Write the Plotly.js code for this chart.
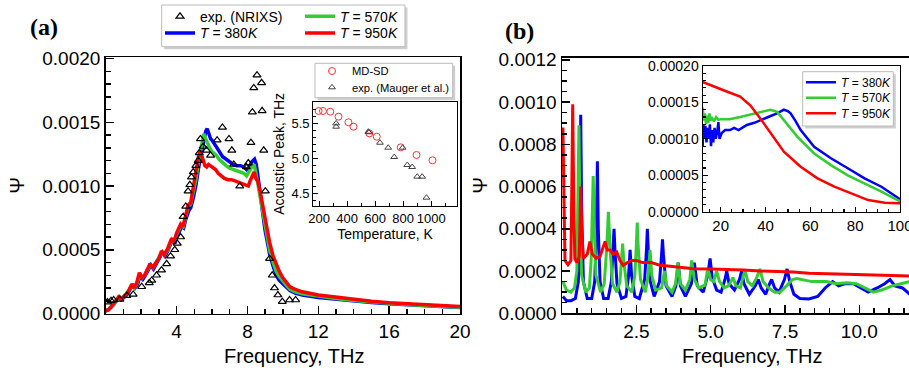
<!DOCTYPE html>
<html><head><meta charset="utf-8">
<script src="https://cdn.plot.ly/plotly-3.0.1.min.js"></script>
<style>html,body{margin:0;padding:0;background:#fff}#chart{width:909px;height:372px}</style>
</head><body><div id="chart"></div>
<script>
// ---------- Panel (a): phonon spectrum vs frequency ----------
const freqA380 = [0,0.15,0.3,0.45,0.6,0.77,0.9,1.0,1.15,1.3,1.52,1.65,1.8,1.95,2.1,2.2,2.35,2.55,2.7,2.82,3.0,3.2,3.35,3.5,3.77,3.9,4.0,4.27,4.4,4.5,4.7,4.8,4.95,5.1,5.25,5.4,5.55,5.65,5.73,5.82,5.92,6.0,6.1,6.25,6.4,6.6,6.8,7.0,7.2,7.4,7.6,7.8,7.95,8.1,8.25,8.4,8.5,8.6,8.7,8.85,9.0,9.1,9.25,9.45,9.63,9.8,10.0,10.2,10.4,10.7,11.1,12,13,14,15,16,17,18,19,20];
const psiA380 = [0.00002,0.00003,0.00005,0.00007,0.0001,0.00013,0.00011,0.00012,0.00014,0.00017,0.00023,0.0002,0.00023,0.0003,0.00027,0.00029,0.00033,0.00038,0.00035,0.00038,0.00042,0.00048,0.00045,0.00049,0.00058,0.00055,0.00059,0.00068,0.00067,0.00073,0.00081,0.00083,0.00091,0.00101,0.00115,0.00127,0.00137,0.00143,0.00145,0.00141,0.00137,0.00136,0.00134,0.0013,0.00127,0.00123,0.00121,0.00119,0.00117,0.00116,0.00116,0.00115,0.00113,0.00115,0.00119,0.00121,0.00117,0.00107,0.00095,0.0008,0.00065,0.00057,0.00047,0.00037,0.0003,0.00026,0.00023,0.0002,0.00018,0.00016,0.000145,0.000125,0.00011,0.000097,0.000086,0.000077,0.000068,0.00006,0.000054,0.000048];
const freqA570 = [0,0.15,0.3,0.45,0.6,0.75,0.88,1.0,1.15,1.3,1.5,1.62,1.78,1.93,2.07,2.2,2.35,2.52,2.67,2.8,3.0,3.17,3.32,3.5,3.74,3.87,4.0,4.25,4.37,4.5,4.67,4.8,4.95,5.1,5.25,5.4,5.54,5.62,5.7,5.8,5.9,6.0,6.1,6.25,6.4,6.6,6.8,7.0,7.2,7.4,7.6,7.8,7.95,8.1,8.25,8.38,8.48,8.6,8.7,8.85,9.0,9.1,9.25,9.45,9.63,9.8,10.0,10.2,10.4,10.7,11.1,12,13,14,15,16,17,18,19,20];
const psiA570 = [0.00002,0.00003,0.00005,0.00007,0.0001,0.00012,0.00011,0.00013,0.00015,0.00018,0.00022,0.0002,0.00024,0.00031,0.00028,0.0003,0.00034,0.00038,0.00036,0.00039,0.00043,0.00048,0.00046,0.0005,0.00058,0.00056,0.00062,0.00069,0.00068,0.00075,0.00084,0.00086,0.00095,0.00106,0.0012,0.00132,0.00141,0.00138,0.00135,0.00132,0.00129,0.00127,0.00126,0.00124,0.00121,0.00118,0.00116,0.00114,0.00113,0.00112,0.00111,0.0011,0.00108,0.00112,0.00115,0.00117,0.00111,0.00101,0.00093,0.00081,0.00068,0.0006,0.0005,0.0004,0.00033,0.00029,0.00025,0.00022,0.00019,0.00017,0.000155,0.000135,0.000118,0.000102,0.00009,0.00008,0.00007,0.000063,0.000056,0.00005];
const freqA950 = [0,0.15,0.3,0.45,0.6,0.72,0.85,1.0,1.15,1.3,1.47,1.6,1.75,1.9,2.05,2.2,2.35,2.5,2.65,2.8,3.0,3.15,3.3,3.5,3.72,3.85,4.0,4.23,4.35,4.5,4.65,4.8,4.95,5.1,5.22,5.32,5.42,5.51,5.6,5.7,5.8,5.9,6.0,6.1,6.2,6.35,6.5,6.7,6.9,7.1,7.3,7.5,7.7,7.9,8.05,8.15,8.3,8.38,8.48,8.58,8.7,8.85,9.0,9.1,9.25,9.45,9.63,9.8,10.0,10.2,10.4,10.7,11.1,12,13,14,15,16,17,18,19,20];
const psiA950 = [0.00002,0.00003,0.00005,0.00008,0.0001,0.00013,0.00011,0.00013,0.00015,0.00018,0.00023,0.0002,0.00024,0.00032,0.00028,0.0003,0.00034,0.00039,0.00036,0.00039,0.00043,0.00049,0.00046,0.00051,0.00059,0.00056,0.00063,0.0007,0.00068,0.00076,0.00085,0.00087,0.00098,0.00112,0.00122,0.00128,0.00124,0.0012,0.00116,0.00115,0.00117,0.00116,0.00115,0.00114,0.00113,0.0011,0.00108,0.00106,0.00105,0.00105,0.00104,0.00103,0.00102,0.00101,0.001,0.00104,0.00109,0.00111,0.00106,0.00104,0.00097,0.00086,0.00073,0.00066,0.00056,0.00045,0.00038,0.00033,0.00028,0.00024,0.00021,0.00019,0.00017,0.000145,0.000128,0.00011,0.000097,0.000085,0.000077,0.00007,0.000062,0.000055];
const freqNRIXS = [0.1,0.3,0.45,0.8,1.2,1.55,2.03,2.46,2.6,2.87,3.15,3.44,3.66,3.9,4.04,4.23,4.37,4.52,4.65,4.75,4.84,4.94,5.09,5.22,5.28,5.35,5.5,5.69,5.92,6.29,6.59,6.96,7.12,7.23,7.57,7.94,8.05,8.2,8.28,8.36,8.54,8.8,8.83,8.92,9.01,9.25,9.4,9.53,9.72,9.97,10.38,10.72];
const psiNRIXS = [0.00009,0.0001,0.000106,0.00011,0.00014,0.00015,0.00021,0.00024,0.00026,0.0003,0.00034,0.00039,0.00045,0.0005,0.00055,0.0006,0.00076,0.00084,0.00096,0.00101,0.00107,0.00111,0.00116,0.0012,0.00126,0.00137,0.00131,0.00128,0.00124,0.00136,0.00146,0.00137,0.00128,0.00117,0.001,0.00115,0.00118,0.00134,0.00158,0.00177,0.00187,0.00181,0.00159,0.00128,0.00096,0.00043,0.0003,0.0002,0.000145,0.000093,0.000106,0.000106];

// ---------- Inset (a): acoustic peak vs temperature ----------
const tempMD = [196,227,279,338,409,445,558,611,782,895,1009];
const peakMD = [5.677,5.677,5.667,5.596,5.516,5.453,5.358,5.31,5.158,5.049,4.973];
const tempExp = [321,321,551,556,634,693,736,796,829,864,900,935,966];
const peakExp = [5.50,5.453,5.381,5.373,5.224,5.153,5.02,5.153,4.906,4.877,4.739,4.739,4.439];

// ---------- Panel (b): low-frequency spectrum ----------
const freqB380 = [0.03,0.15,0.3,0.45,0.55,0.6,0.63,0.66,0.72,0.85,1.0,1.1,1.16,1.19,1.22,1.28,1.4,1.55,1.66,1.72,1.75,1.78,1.85,2.0,2.15,2.24,2.29,2.34,2.45,2.6,2.78,2.84,2.87,2.9,2.97,3.1,3.28,3.35,3.38,3.41,3.5,3.7,3.83,3.91,3.98,4.15,4.35,4.45,4.55,4.75,4.9,4.98,5.05,5.2,5.35,5.48,5.54,5.62,5.8,5.97,6.04,6.12,6.3,6.5,6.6,6.7,6.85,6.98,7.05,7.15,7.3,7.48,7.57,7.66,7.8,8.0,8.3,8.6,8.85,9.1,9.3,9.5,9.8,10.05,10.3,10.6,10.85,11.03,11.2,11.45,11.7];
const psiB380 = [0.00008,0.00006,0.00006,0.00007,0.00015,0.0005,0.00094,0.0005,0.00015,0.00007,0.00007,0.00015,0.0004,0.00072,0.0004,0.00015,0.00007,0.00007,0.00015,0.0003,0.0004,0.0003,0.00014,0.00007,0.00008,0.00018,0.0003,0.00018,0.00008,0.00007,0.00016,0.0003,0.0004,0.0003,0.00015,0.00008,0.00015,0.00028,0.00035,0.00028,0.00013,0.00008,0.00013,0.00024,0.00013,0.00008,0.00014,0.00024,0.00013,0.0001,0.00018,0.00026,0.00017,0.00011,0.0001,0.00016,0.0002,0.00014,0.00011,0.00016,0.0002,0.00014,0.00009,0.00013,0.00016,0.00012,0.00009,0.00014,0.00016,0.00012,0.0001,0.00016,0.00021,0.00015,0.00009,0.00007,0.000068,0.00008,0.00012,0.00015,0.00013,0.00014,0.00014,0.00012,0.0001,0.00012,0.00014,0.00016,0.00013,0.00012,0.00009];
const freqB570 = [0.03,0.15,0.3,0.42,0.5,0.54,0.57,0.6,0.66,0.8,0.92,0.98,1.02,1.05,1.08,1.14,1.3,1.42,1.5,1.56,1.62,1.7,1.85,1.95,2.0,2.04,2.08,2.18,2.35,2.45,2.5,2.53,2.56,2.64,2.8,2.9,2.96,3.02,3.15,3.35,3.45,3.52,3.7,3.82,3.9,3.98,4.15,4.3,4.36,4.45,4.6,4.81,4.9,5.0,5.1,5.2,5.3,5.45,5.6,5.75,5.85,6.0,6.1,6.16,6.25,6.4,6.55,6.66,6.76,6.95,7.15,7.33,7.55,7.75,7.9,8.1,8.4,8.68,8.9,9.2,9.58,9.9,10.2,10.47,10.75,11.1,11.4,11.7];
const psiB570 = [0.00015,0.00011,0.0001,0.00012,0.0002,0.0005,0.00089,0.0005,0.00018,0.0001,0.00012,0.00025,0.00045,0.00065,0.00045,0.00018,0.0001,0.00014,0.0003,0.00048,0.0003,0.00014,0.0001,0.00015,0.00025,0.00033,0.00024,0.00013,0.0001,0.00018,0.00032,0.00043,0.00032,0.00016,0.0001,0.00018,0.0003,0.00018,0.00011,0.00012,0.0002,0.00013,0.0001,0.00014,0.00024,0.00014,0.00011,0.00016,0.00025,0.00016,0.00012,0.000133,0.00021,0.00016,0.00015,0.0002,0.00015,0.00012,0.00013,0.00017,0.00013,0.00012,0.00018,0.0002,0.00015,0.00013,0.00017,0.00021,0.00015,0.00012,0.0001,0.0001,0.00013,0.00016,0.000165,0.00016,0.00015,0.00015,0.00015,0.00014,0.000145,0.00014,0.00012,0.0001,0.00011,0.00013,0.00014,0.00015];
const freqB950 = [0.03,0.06,0.1,0.2,0.3,0.33,0.36,0.39,0.43,0.5,0.58,0.61,0.63,0.66,0.72,0.85,0.94,1.02,1.15,1.28,1.38,1.45,1.52,1.62,1.72,1.84,1.95,2.06,2.2,2.35,2.51,2.7,3.0,3.3,3.8,4.42,5.0,5.54,6.1,6.66,7.2,7.78,8.3,8.9,9.5,10.0,10.8,11.7];
const psiB950 = [0.00088,0.0005,0.00025,0.00023,0.00025,0.0006,0.00099,0.0006,0.00026,0.00024,0.00027,0.00045,0.0006,0.0004,0.00026,0.00028,0.00034,0.00028,0.00026,0.00027,0.00031,0.00034,0.0003,0.0003,0.00028,0.00029,0.00025,0.000227,0.00024,0.00025,0.00025,0.00024,0.00024,0.000227,0.00022,0.000211,0.00021,0.000208,0.000205,0.0002,0.000198,0.000195,0.00019,0.000187,0.000185,0.000183,0.00018,0.000177];

// ---------- Inset (b) ----------
const xIn380 = [12,12.3,12.7,13.2,13.7,14.2,14.7,15.2,15.7,16.2,16.7,17.3,17.8,18.5,19,19.5,20.5,22,24.2,26,28,31.7,35,39.2,42,45.2,48.2,50,51.2,53.5,55.7,61.7,69.2,76.7,84.2,91.7,100];
const yIn380 = [0.00009,0.00012,0.0001,0.000118,0.000095,0.000115,0.0001,0.00012,0.00009,0.000112,0.000095,0.000115,0.0001,0.00011,0.000123,0.0001,0.000108,0.000112,0.000112,0.000115,0.000112,0.000119,0.000122,0.000128,0.000131,0.000135,0.00014,0.000138,0.000135,0.000124,0.000112,0.0000892,0.0000733,0.0000596,0.0000458,0.0000343,0.000017];
const xIn570 = [12,12.5,13,13.5,14,14.5,15,15.5,16,17,18,19,20,24,28.7,33,37.7,42.2,45.2,47,49.7,54.2,61.7,69.2,76.7,84.2,91.7,100];
const yIn570 = [0.000143,0.000125,0.000135,0.00012,0.000132,0.000122,0.000135,0.000125,0.00013,0.000124,0.00013,0.000126,0.000127,0.000127,0.00013,0.000133,0.000137,0.00014,0.000137,0.00013,0.000119,0.000103,0.00008,0.000064,0.00005,0.000039,0.0000275,0.000014];
const xIn950 = [12,16.7,22.7,28.7,33.2,37.7,42.2,48.2,55.7,63.2,70.7,78.2,85.8,93.2,100];
const yIn950 = [0.000178,0.000172,0.000165,0.000158,0.000146,0.000128,0.000108,0.0000824,0.0000618,0.0000458,0.0000343,0.0000252,0.000016,0.0000124,0.0000115];

const freqTicksA = [4,8,12,16,20];
const freqTicksB = [2.5,5,7.5,10];
const tempTicks = [200,400,600,800,1000];
const peakTicks = [4.5,5.0,5.5];
const insetBTicks = [20,40,60,80,100];

// ---------- layout helpers ----------
const W = 909, H = 372;
const px = x => x / W;
const py = y => 1 - y / H;
const K = '#000';
const FONT = 'Liberation Sans, Arial, sans-serif';
const BLUE = '#0000ff', GREEN = '#33cc33', RED = '#ff0000';

function ax(o, big) {
  const base = {
    showline: true, linecolor: K, linewidth: big ? 1.5 : 1.2,
    ticks: 'inside', ticklen: big ? 8 : 5, tickwidth: big ? 1.5 : 1.2, tickcolor: K,
    showgrid: false, zeroline: false, fixedrange: true, ticklabeloverflow: 'allow',
    tickfont: {family: FONT, size: big ? 19 : 13, color: K}
  };
  const r = Object.assign(base, o);
  r.minor = Object.assign({ticks: 'inside', ticklen: big ? 5 : 3, tickwidth: big ? 1.5 : 1.2, tickcolor: K, showgrid: false}, o.minor || {});
  return r;
}

const leg = (x, y, size) => ({x: px(x), y: py(y), xanchor: 'left', yanchor: 'middle',
  bgcolor: 'rgba(0,0,0,0)', borderwidth: 0, font: {family: FONT, size: size, color: K}});

const traces = [
  // panel (a)
  {x: freqA380, y: psiA380, xaxis: 'x', yaxis: 'y', mode: 'lines', name: '<i>T</i> = 380<i>K</i>',
   line: {color: BLUE, width: 3.5}, legend: 'legend2'},
  {x: freqA570, y: psiA570, xaxis: 'x', yaxis: 'y', mode: 'lines', name: '<i>T</i> = 570<i>K</i>',
   line: {color: GREEN, width: 3.5}, legend: 'legend3'},
  {x: freqA950, y: psiA950, xaxis: 'x', yaxis: 'y', mode: 'lines', name: '<i>T</i> = 950<i>K</i>',
   line: {color: RED, width: 3.5}, legend: 'legend4'},
  {x: freqNRIXS, y: psiNRIXS, xaxis: 'x', yaxis: 'y', mode: 'markers', name: 'exp. (NRIXS)',
   marker: {symbol: 'triangle-up-open', size: 7, color: K, line: {width: 1.2}}, legend: 'legend'},
  // inset (a)
  {x: tempMD, y: peakMD, xaxis: 'x2', yaxis: 'y2', mode: 'markers', name: 'MD-SD',
   marker: {symbol: 'circle-open', size: 7, color: '#ff3333', line: {width: 1}}, legend: 'legend5'},
  {x: tempExp, y: peakExp, xaxis: 'x2', yaxis: 'y2', mode: 'markers', name: 'exp. (Mauger et al.)',
   marker: {symbol: 'triangle-up-open', size: 6, color: '#444', line: {width: 1}}, legend: 'legend6'},
  // panel (b)
  {x: freqB380, y: psiB380, xaxis: 'x3', yaxis: 'y3', mode: 'lines', showlegend: false, line: {color: BLUE, width: 3}},
  {x: freqB570, y: psiB570, xaxis: 'x3', yaxis: 'y3', mode: 'lines', showlegend: false, line: {color: GREEN, width: 3}},
  {x: freqB950, y: psiB950, xaxis: 'x3', yaxis: 'y3', mode: 'lines', showlegend: false, line: {color: RED, width: 3}},
  // inset (b)
  {x: xIn380, y: yIn380, xaxis: 'x4', yaxis: 'y4', mode: 'lines', name: '<i>T</i> = 380<i>K</i>',
   line: {color: BLUE, width: 2.5}, legend: 'legend7'},
  {x: xIn570, y: yIn570, xaxis: 'x4', yaxis: 'y4', mode: 'lines', name: '<i>T</i> = 570<i>K</i>',
   line: {color: GREEN, width: 2.5}, legend: 'legend8'},
  {x: xIn950, y: yIn950, xaxis: 'x4', yaxis: 'y4', mode: 'lines', name: '<i>T</i> = 950<i>K</i>',
   line: {color: RED, width: 2.5}, legend: 'legend9'}
];

function box(x0, y0, x1, y1) {
  return [
    {type: 'rect', xref: 'paper', yref: 'paper', x0: px(x0 + 2.5), x1: px(x1 + 2.5), y0: py(y1 + 2.5), y1: py(y0 + 2.5),
     fillcolor: '#cfcfcf', line: {width: 0}},
    {type: 'rect', xref: 'paper', yref: 'paper', x0: px(x0), x1: px(x1), y0: py(y1), y1: py(y0),
     fillcolor: '#ffffff', line: {color: '#bbbbbb', width: 1}}
  ];
}

const ann = (text, x, y, font) => ({text: text, xref: 'paper', yref: 'paper', x: px(x), y: py(y),
  xanchor: 'center', yanchor: 'middle', showarrow: false, font: font});
const SERIF = {family: 'Liberation Serif, Times New Roman, serif', size: 24, color: K};
const TITLEF = {family: FONT, size: 20, color: K};

const layout = {
  width: W, height: H, margin: {l: 0, r: 0, t: 0, b: 0},
  paper_bgcolor: '#fff', plot_bgcolor: '#fff',
  font: {family: FONT, color: K},
  xaxis: ax({domain: [px(105.7), px(460)], range: [0, 20], tickvals: freqTicksA, anchor: 'y', mirror: true,
    minor: {dtick: 1, tick0: 0}}, true),
  yaxis: ax({domain: [py(313.5), py(57.3)], range: [0, 0.00201], dtick: 0.0005, tick0: 0, tickformat: '.4f',
    anchor: 'x', mirror: true, minor: {dtick: 0.0001, tick0: 0},
    title: {text: 'Ψ', font: TITLEF, standoff: 12}}, true),
  xaxis2: ax({domain: [px(313.3), px(456.7)], range: [158, 1182], tickvals: tempTicks, anchor: 'y2', mirror: true,
    minor: {dtick: 100, tick0: 0},
    title: {text: 'Temperature, K', font: {family: FONT, size: 14, color: K}, standoff: 2}}, false),
  yaxis2: ax({domain: [py(206), py(101.7)], range: [4.32, 5.81], tickvals: peakTicks, tickformat: '.1f', anchor: 'x2', mirror: true,
    minor: {dtick: 0.1, tick0: 4.5},
    title: {text: 'Acoustic Peak, THz', font: {family: FONT, size: 14, color: K}, standoff: 3}}, false),
  xaxis3: ax({domain: [px(562), 1], range: [0, 11.67], tickvals: freqTicksB, tickformat: '.1f', anchor: 'y3', mirror: true,
    minor: {dtick: 0.5, tick0: 0}}, true),
  yaxis3: ax({domain: [py(313.3), py(57.7)], range: [0, 0.00121], dtick: 0.0002, tick0: 0, tickformat: '.4f', anchor: 'x3',
    minor: {dtick: 0.00005, tick0: 0},
    title: {text: 'Ψ', font: TITLEF, standoff: 5}}, true),
  xaxis4: ax({domain: [px(702.7), px(900)], range: [12, 100], tickvals: insetBTicks, anchor: 'y4', mirror: true,
    minor: {dtick: 5, tick0: 0}, tickfont: {family: FONT, size: 15, color: K}}, false),
  yaxis4: ax({domain: [py(211.7), py(66)], range: [0, 0.0002], dtick: 0.00005, tick0: 0, tickformat: '.5f', anchor: 'x4', mirror: true,
    minor: {dtick: 0.00001, tick0: 0}, tickfont: {family: FONT, size: 14, color: K}}, false),
  legend: leg(160, 16.7, 14),
  legend2: leg(160, 33.3, 14),
  legend3: leg(300, 16.7, 14),
  legend4: leg(300, 33.3, 14),
  legend5: leg(312, 71, 11.2),
  legend6: leg(312, 87.3, 11.2),
  legend7: leg(801, 82.3, 12),
  legend8: leg(801, 97.7, 12),
  legend9: leg(801, 113.3, 12),
  shapes: [].concat(box(161.7, 5, 405, 46.7), box(315, 63.3, 452.7, 97.7), box(802.7, 71.7, 893.3, 126)),
  annotations: [
    ann('<b>(a)</b>', 44, 27, SERIF),
    ann('<b>(b)</b>', 519, 31, SERIF),
    ann('Frequency, THz', 294, 356, TITLEF),
    ann('Frequency, THz', 752, 356, TITLEF)
  ]
};

Plotly.newPlot('chart', traces, layout, {displayModeBar: false, staticPlot: true});
</script></body></html>
